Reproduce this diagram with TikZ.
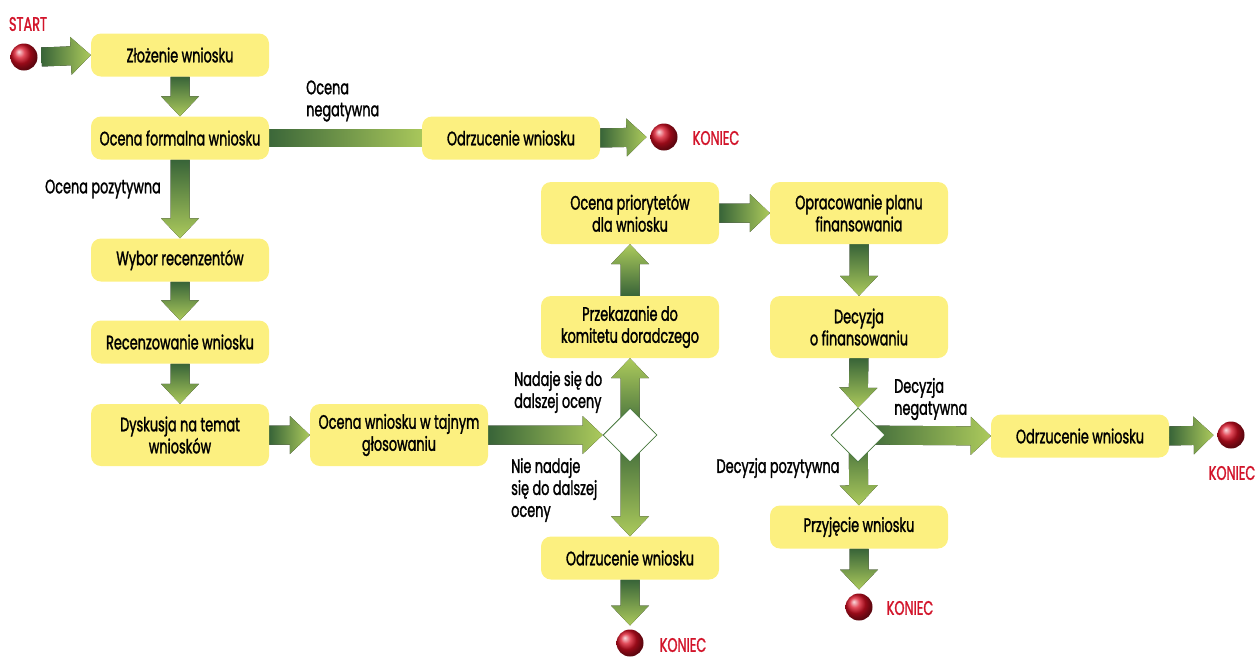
\documentclass[tikz,border=0pt]{standalone}
\usepackage{fontspec}
\setmainfont{Poppins}[FakeStretch=0.66, FakeBold=1.4]
\usetikzlibrary{calc,shapes.geometric,backgrounds}

\definecolor{boxyellow}{RGB}{252,240,128}
\definecolor{gdark}{RGB}{56,100,56}
\definecolor{glight}{RGB}{172,202,92}
\definecolor{ballred}{RGB}{215,15,35}
\definecolor{endred}{RGB}{210,20,42}
\definecolor{decgreen}{RGB}{70,120,60}

\newcommand\fs{\fontsize{19.5}{22}\selectfont}
\newcommand\aw{9.5pt}  % half width of an arrow shaft
\newcommand\hw{19pt}   % half width of an arrow head
\newcommand\ah{20pt}   % length of an arrow head

% block arrow: #1 shading, #2 tail point, #3 tip point
\newcommand\blk[3]{%
  \fill[#1] ($(#2)!\aw!90:(#3)$)
    -- ($(#3)!\ah!(#2)!\aw!-90:(#2)$)
    -- ($(#3)!\ah!(#2)!\hw!-90:(#2)$)
    -- (#3)
    -- ($(#3)!\ah!(#2)!\hw!90:(#2)$)
    -- ($(#3)!\ah!(#2)!\aw!90:(#2)$)
    -- ($(#2)!\aw!-90:(#3)$) -- cycle;}

\tikzset{
  box/.style={fill=boxyellow, rounded corners=10pt, minimum width=178pt,
    minimum height=43pt, align=center, inner sep=2pt, font=\fs},
  tallbox/.style={box, minimum height=62pt},
  ball/.style={circle, minimum size=27pt, inner sep=0pt, outer sep=4pt,
    shading=ball, ball color=ballred},
  choice/.style={diamond, draw=decgreen, fill=white, line width=0.8pt,
    minimum width=54pt, minimum height=54pt, inner sep=0pt},
  lbl/.style={align=left, font=\fs, inner sep=0pt},
  endlbl/.style={text=endred, font=\fs, inner sep=0pt},
  ar/.style={left color=gdark, right color=glight},
  ad/.style={top color=gdark, bottom color=glight},
  au/.style={bottom color=gdark, top color=glight},
}

\begin{document}
\begin{tikzpicture}[x=1pt, y=-1pt]
\useasboundingbox (0,0) rectangle (1260,657);

% start and end points
\node[ball] (s)  at (24,57) {};
\node[endlbl] (st) at (28,24) {START};
\node[ball] (e1) at (664,137) {};
\node[endlbl] (k1) at (716,138) {KONIEC};
\node[ball] (e2) at (1231,435) {};
\node[endlbl] (k2) at (1232,473) {KONIEC};
\node[ball] (e3) at (859,607) {};
\node[endlbl] (k3) at (910,608) {KONIEC};
\node[ball] (e4) at (630,643) {};
\node[endlbl] (k4) at (683,645) {KONIEC};

% activities
\node[box] (zl) at (180,55) {Złożenie wniosku};
\node[box] (of) at (180,138) {Ocena formalna wniosku};
\node[box] (o1) at (511,138) {Odrzucenie wniosku};
\node[box] (wr) at (180,260) {Wybor recenzentów};
\node[box] (rw) at (180,342) {Recenzowanie wniosku};
\node[tallbox] (dy) at (180,435) {Dyskusja na temat\\wniosków};
\node[tallbox] (ow) at (399,435) {Ocena wniosku w tajnym\\głosowaniu};
\node[choice] (d1) at (630,435) {};
\node[tallbox] (pk) at (630,327) {Przekazanie do\\komitetu doradczego};
\node[tallbox] (op) at (630,213) {Ocena priorytetów\\dla wniosku};
\node[tallbox] (pf) at (859,213) {Opracowanie planu\\finansowania};
\node[tallbox] (df) at (859,327) {Decyzja\\o finansowaniu};
\node[choice] (d2) at (858,435) {};
\node[box] (o2) at (1080,436) {Odrzucenie wniosku};
\node[box] (pw) at (859,527) {Przyjęcie wniosku};
\node[box] (o3) at (630,558) {Odrzucenie wniosku};

% branch labels
\node[lbl, anchor=west] (l1) at (306,101) {Ocena\\negatywna};
\node[lbl] (l2) at (103,189) {Ocena pozytywna};
\node[lbl, anchor=west] (l3) at (514,392) {Nadaje się do\\dalszej oceny};
\node[lbl, anchor=west] (l4) at (511,490) {Nie nadaje\\się do dalszej\\oceny};
\node[lbl, anchor=west] (l5) at (894,399) {Decyzja\\negatywna};
\node[lbl] (l6) at (778,468) {Decyzja pozytywna};

% connectors
\begin{scope}[on background layer]
\blk{ar}{s.east}{zl.west}
\blk{ad}{zl.south}{of.north}
\fill[ar] ($(of.east)+(-5,-8.5)$) rectangle ($(o1.west)+(5,8.5)$);
\blk{ar}{o1.east}{e1.west}
\blk{ad}{of.south}{wr.north}
\blk{ad}{wr.south}{rw.north}
\blk{ad}{rw.south}{dy.north}
\blk{ar}{dy.east}{ow.west}
\blk{ar}{ow.east}{d1.west}
\blk{au}{d1.center}{pk.south}
\blk{ad}{d1.center}{o3.north}
\blk{ad}{o3.south}{e4.north}
\blk{au}{pk.north}{op.south}
\blk{ar}{op.east}{pf.west}
\blk{ad}{pf.south}{df.north}
\blk{ad}{df.south}{d2.north}
\blk{ar}{d2.center}{o2.west}
\blk{ad}{d2.center}{pw.north}
\blk{ar}{o2.east}{e2.west}
\blk{ad}{pw.south}{e3.north}
\end{scope}
\end{tikzpicture}
\end{document}
